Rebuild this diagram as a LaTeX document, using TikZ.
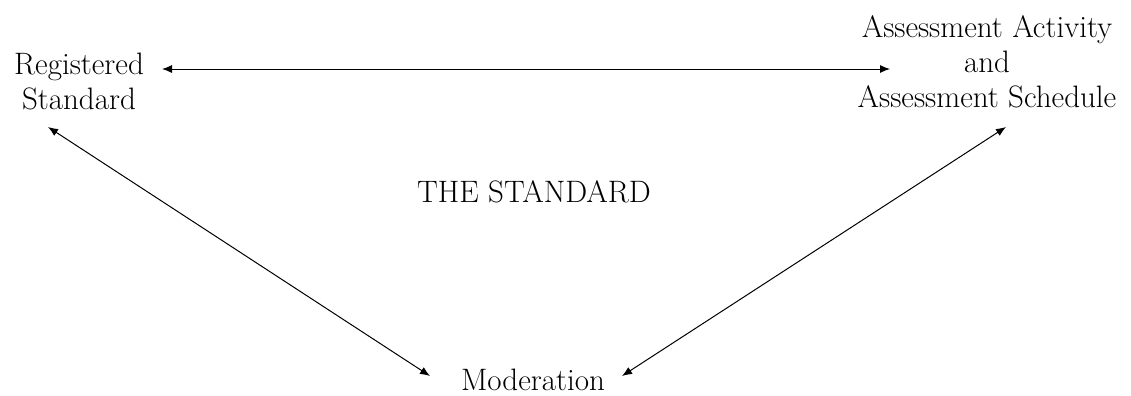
\documentclass[tikz,border=0pt]{standalone}
\usetikzlibrary{arrows.meta}

\begin{document}
\begin{tikzpicture}[x=0.5pt,y=-0.5pt,
	lbl/.style={align=center,inner sep=0pt,font=\fontsize{15.5}{17.5}\selectfont},
	dbl/.style={{Latex[length=5pt,width=4pt]}-{Latex[length=5pt,width=4pt]},line width=0.5pt}]

	\useasboundingbox (0,0) rectangle (1131,396);

	\node[lbl] (reg) at (79,81) {Registered\\Standard};
	\node[lbl] (aas) at (987,62) {Assessment Activity\\and\\Assessment Schedule};
	\node[lbl] (std) at (534,192) {THE STANDARD};
	\node[lbl] (mod) at (533,380) {Moderation};

	\draw[dbl] ([shift={(83,-12)}]reg.center) -- ([shift={(-97,7)}]aas.center);
	\draw[dbl] ([shift={(-31,46)}]reg.center) -- ([shift={(-103,-4)}]mod.center);
	\draw[dbl] ([shift={(19,65)}]aas.center) -- ([shift={(89,-4)}]mod.center);

\end{tikzpicture}
\end{document}
